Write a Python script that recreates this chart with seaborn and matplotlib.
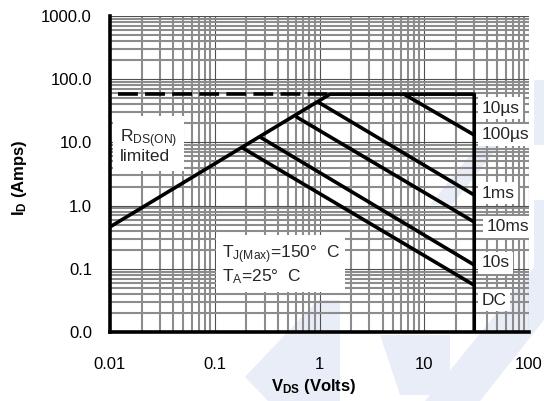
import numpy as np
import pandas as pd
import matplotlib
matplotlib.use("Agg")
import matplotlib.pyplot as plt
from matplotlib.patches import Polygon
from matplotlib.ticker import LogLocator, NullFormatter
import seaborn as sns

### safe operating area values

soa_v = [0.01, 1.26, 30, 30]
soa_i = [0.46, 58, 58, 0.01]

dash_v = [0.012, 1.2]
dash_i = [58, 58]

pulse_names = ['10us', '100us', '1ms', '10ms', 'DC']
pulse_v_start = [6.4, 0.97, 0.61, 0.27, 0.186]
pulse_i_start = [58, 43.5, 25, 12.2, 8.1]
pulse_v_end = [30, 30, 30, 30, 30]
pulse_i_end = [13.1, 1.47, 0.55, 0.115, 0.055]

curve_labels = ['10\u00b5s', '100\u00b5s', '1ms', '10ms', '10s', 'DC']
label_v = [35, 35, 35, 39, 35, 35]
label_i = [35, 13.1, 1.58, 0.46, 0.124, 0.032]

x_ticks = [0.01, 0.1, 1, 10, 100]
x_tick_labels = ['0.01', '0.1', '1', '10', '100']
y_ticks = [0.01, 0.1, 1, 10, 100, 1000]
y_tick_labels = ['0.0', '0.1', '1.0', '10.0', '100.0', '1000.0']

sns.set_theme(style="white")
plt.rcParams['font.family'] = ['Liberation Sans', 'DejaVu Sans']
plt.rcParams['mathtext.fontset'] = 'custom'
plt.rcParams['mathtext.rm'] = 'Liberation Sans'
plt.rcParams['mathtext.it'] = 'Liberation Sans:italic'
plt.rcParams['mathtext.bf'] = 'Liberation Sans:bold'

fig = plt.figure(figsize=(5.44, 4.01), dpi=100, facecolor='white')

## pale logo watermark behind the chart (pixel coords of the picture)
wm_color = '#e8edf7'
wm_shapes = [
    [(245, 377), (318, 300), (340, 300), (340, 401), (268, 401)],
    [(380, 335), (450, 335), (450, 395), (400, 395)],
    [(425, 401), (544, 255), (544, 320), (480, 401)],
    [(534, 80), (544, 80), (544, 145), (534, 145)],
    [(534, 200), (544, 200), (544, 300), (534, 300)],
    [(430, 205), (478, 145), (500, 145), (452, 205)],
]
for shape in wm_shapes:
    pts = [(x / 544, 1 - y / 401) for x, y in shape]
    fig.patches.append(Polygon(pts, closed=True, transform=fig.transFigure,
                               facecolor=wm_color, edgecolor='none', zorder=-1))

ax = fig.add_axes([110 / 544, 1 - 332 / 401, 419 / 544, 316 / 401])
ax.set_zorder(1)
ax.patch.set_visible(False)
ax.set_xscale('log')
ax.set_yscale('log')
ax.set_xlim(0.01, 100)
ax.set_ylim(0.01, 1000)

ax.xaxis.set_minor_locator(LogLocator(base=10, subs=np.arange(2, 10), numticks=100))
ax.yaxis.set_minor_locator(LogLocator(base=10, subs=np.arange(2, 10), numticks=100))
ax.xaxis.set_minor_formatter(NullFormatter())
ax.yaxis.set_minor_formatter(NullFormatter())
ax.grid(which='minor', color='#8c8c8c', linewidth=1.5)
ax.grid(which='major', color='#505050', linewidth=0.8)
ax.set_axisbelow(True)

lw = 2.6
sns.lineplot(x=soa_v, y=soa_i, sort=False, estimator=None, color='black',
             linewidth=lw, ax=ax, zorder=4)
sns.lineplot(x=dash_v, y=dash_i, sort=False, estimator=None, color='black',
             linewidth=lw, linestyle=(0, (5.5, 2.0)), ax=ax, zorder=4)

pulses = pd.DataFrame({
    'pulse': pulse_names * 2,
    'V': pulse_v_start + pulse_v_end,
    'I': pulse_i_start + pulse_i_end,
})
sns.lineplot(data=pulses, x='V', y='I', units='pulse', estimator=None,
             sort=False, color='black', linewidth=lw, ax=ax, zorder=4)

box = dict(facecolor='white', edgecolor='none', pad=2.5)
for name, v, i in zip(curve_labels, label_v, label_i):
    ax.text(v, i, name, fontsize=12.5, ha='left', va='center', bbox=box, zorder=3)

ax.text(0.0124, 8.8, 'R$_{\\mathrm{DS(ON)}}$\nlimited', fontsize=12.5,
        ha='left', va='center', linespacing=0.95,
        bbox=dict(facecolor='white', edgecolor='none', pad=5), zorder=3)
ax.text(0.117, 0.115,
        'T$_{\\mathrm{J(Max)}}$=150\u00b0  C\nT$_{\\mathrm{A}}$=25\u00b0  C',
        fontsize=12.5, ha='left', va='center', linespacing=1.1,
        bbox=dict(facecolor='white', edgecolor='none', pad=4), zorder=3)

ax.set_xticks(x_ticks)
ax.set_xticklabels(x_tick_labels)
ax.set_yticks(y_ticks)
ax.set_yticklabels(y_tick_labels)
ax.tick_params(which='both', length=0, labelsize=12, colors='black')
ax.tick_params(axis='x', pad=18)
ax.tick_params(axis='y', pad=13)

for side in ['top', 'right']:
    ax.spines[side].set_visible(False)
for side in ['left', 'bottom']:
    ax.spines[side].set_color('black')
    ax.spines[side].set_linewidth(2.6)
    ax.spines[side].set_zorder(5)

ax.set_xlabel('V$_{\\mathbf{DS}}$ (Volts)', fontsize=12, fontweight='bold', color='black')
ax.set_ylabel('I$_{\\mathbf{D}}$ (Amps)', fontsize=12, fontweight='bold', color='black')
ax.xaxis.set_label_coords(0.487, -0.172)
ax.xaxis.label.set_va('center')
ax.yaxis.set_label_coords(-0.215, 0.49)
ax.yaxis.label.set_va('center')

fig.savefig('out.png', dpi=100, facecolor='white')
